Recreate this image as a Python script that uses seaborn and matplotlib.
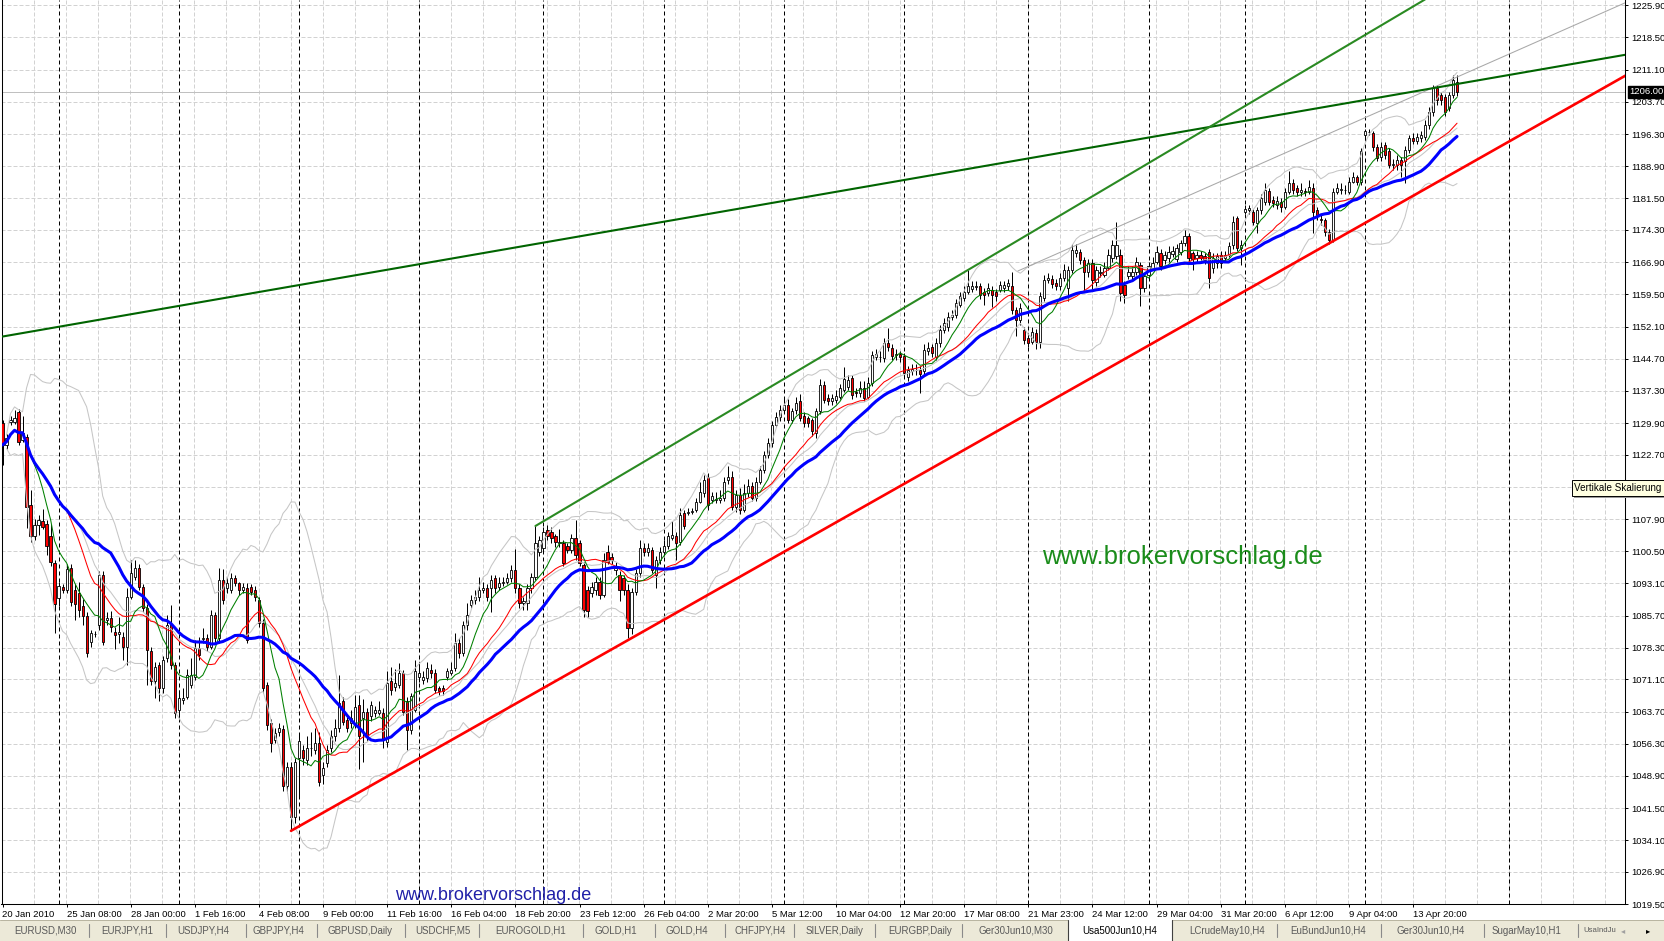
import numpy as np
import pandas as pd
import matplotlib
matplotlib.use("Agg")
import matplotlib.pyplot as plt
import seaborn as sns
from matplotlib.patches import Rectangle
from matplotlib.transforms import blended_transform_factory

# ---------------- data (Usa500Jun10, H4) ----------------
opens = [
1129.9,1124.9,1130.2,1130.2,1132.4,1126.0,1126.8,1111.1,1103.9,1106.5,
1107.4,1106.8,1103.9,1097.9,1089.7,1092.4,1091.6,1096.6,1091.6,1090.8,
1087.9,1085.6,1079.7,1081.5,1083.6,1095.0,1084.7,1085.1,1082.0,1081.6,
1080.7,1078.6,1090.0,1094.7,1096.6,1092.4,1087.4,1077.5,1070.6,1074.3,
1069.0,1075.9,1083.9,1074.4,1064.1,1066.4,1067.1,1069.8,1071.7,1078.2,
1080.3,1080.5,1078.6,1085.9,1080.5,1093.9,1092.0,1091.6,1094.3,1093.1,
1091.6,1092.0,1092.4,1091.6,1089.3,1084.0,1069.8,1061.0,1057.2,1059.0,
1059.6,1046.6,1051.0,1039.5,1053.0,1054.9,1052.6,1055.3,1054.9,1056.5,
1049.1,1051.8,1055.3,1058.0,1059.8,1066.0,1061.8,1061.0,1061.0,1065.2,
1062.2,1063.7,1062.6,1063.3,1063.3,1063.3,1056.8,1070.6,1069.4,1069.8,
1072.5,1066.0,1059.5,1064.1,1071.7,1071.0,1071.3,1073.3,1072.5,1069.1,
1069.1,1071.7,1072.5,1073.6,1079.4,1077.1,1083.6,1088.2,1089.3,1090.1,
1091.6,1092.0,1092.0,1094.3,1092.4,1093.2,1093.5,1094.3,1096.2,1092.0,
1088.6,1088.6,1092.0,1094.7,1100.4,1101.2,1105.4,1105.0,1103.9,1102.3,
1102.3,1101.6,1100.8,1103.5,1102.3,1097.4,1091.6,1090.9,1091.6,1093.5,
1090.5,1100.4,1099.1,1096.2,1095.1,1094.3,1091.6,1082.8,1091.2,1095.4,
1101.2,1100.4,1100.8,1095.1,1098.5,1100.4,1101.6,1103.5,1103.9,1102.7,
1109.2,1109.3,1109.6,1110.0,1111.9,1113.8,1117.6,1112.3,1112.2,1112.3,
1112.7,1116.9,1117.6,1110.7,1113.5,1110.0,1113.8,1115.5,1112.8,1116.5,
1119.2,1122.6,1125.3,1129.5,1131.4,1133.0,1134.1,1130.7,1133.0,1134.9,
1131.6,1131.0,1130.7,1127.6,1132.6,1138.7,1135.6,1134.9,1135.3,1136.0,
1137.6,1138.3,1140.2,1137.1,1136.8,1137.9,1136.0,1139.1,1145.2,1145.0,
1144.8,1148.4,1147.1,1145.6,1145.7,1145.4,1140.6,1141.8,1142.1,1142.1,
1141.8,1146.4,1147.3,1145.2,1148.3,1151.3,1151.9,1154.4,1154.8,1157.1,
1158.6,1160.1,1160.7,1161.2,1161.3,1160.1,1159.7,1160.6,1160.1,1160.5,
1160.9,1161.3,1161.3,1155.9,1153.6,1151.3,1149.4,1148.6,1150.5,1148.6,
1158.6,1162.8,1163.0,1162.0,1161.3,1163.2,1160.9,1165.1,1168.9,1169.3,
1167.4,1164.7,1166.6,1162.4,1164.3,1164.0,1165.5,1167.8,1168.2,1168.6,
1161.7,1163.6,1163.6,1164.7,1166.3,1160.9,1163.9,1165.5,1167.0,1169.0,
1167.4,1167.8,1168.7,1167.6,1169.3,1171.2,1172.8,1168.9,1167.8,1168.6,
1168.2,1169.3,1165.5,1166.6,1168.6,1167.8,1168.6,1170.9,1177.0,1170.1,
1178.5,1178.9,1178.5,1175.8,1178.9,1180.8,1183.2,1181.2,1180.0,1180.8,
1179.6,1183.1,1185.0,1183.9,1183.1,1183.2,1183.1,1183.9,1178.9,1176.7,
1176.6,1173.9,1172.0,1183.1,1183.5,1183.4,1183.1,1185.4,1186.5,1185.4,
1196.1,1196.7,1196.5,1193.4,1191.1,1193.8,1192.3,1189.2,1189.2,1190.3,
1190.0,1192.7,1195.3,1194.6,1195.3,1195.7,1198.4,1201.4,1206.8,1205.3,
1204.9,1202.2,1205.3,1208.3]

highs = [
1130.6,1127.5,1131.5,1132.9,1133.2,1131.5,1127.5,1114.5,1108.0,1108.8,
1110.1,1107.7,1106.8,1098.5,1093.5,1093.0,1097.5,1097.5,1093.0,1093.5,
1089.5,1086.5,1082.5,1082.3,1096.0,1096.0,1086.5,1086.8,1083.0,1085.5,
1082.0,1092.0,1098.5,1098.5,1097.5,1093.0,1088.5,1078.5,1075.0,1075.0,
1076.5,1085.9,1088.2,1075.0,1068.7,1069.0,1073.5,1076.0,1080.1,1080.9,
1082.8,1081.5,1087.0,1086.5,1096.6,1096.4,1094.6,1095.5,1095.0,1093.5,
1093.2,1093.2,1093.0,1092.5,1090.0,1085.0,1070.5,1062.0,1060.0,1061.0,
1060.5,1052.0,1052.0,1053.0,1058.5,1056.0,1058.0,1059.0,1060.0,1059.0,
1052.0,1056.0,1059.5,1062.0,1072.1,1067.0,1062.5,1064.0,1067.5,1067.5,
1066.5,1064.5,1066.0,1065.0,1066.0,1064.5,1073.0,1074.0,1073.5,1074.8,
1073.3,1067.0,1068.0,1075.5,1075.0,1073.0,1075.0,1074.5,1073.5,1069.5,
1069.8,1073.8,1075.0,1081.7,1080.5,1084.5,1088.6,1090.5,1091.5,1094.7,
1093.5,1093.0,1095.0,1095.0,1094.5,1094.5,1095.5,1097.4,1101.0,1093.0,
1090.0,1093.0,1095.5,1106.3,1104.0,1106.0,1106.5,1106.0,1104.5,1105.5,
1103.0,1102.5,1104.5,1107.7,1103.0,1098.0,1092.5,1093.5,1094.5,1094.5,
1100.0,1102.0,1100.0,1098.0,1096.0,1095.0,1093.0,1092.0,1096.5,1103.0,
1102.5,1102.5,1101.5,1099.5,1101.5,1103.0,1105.0,1107.5,1105.0,1110.5,
1110.0,1110.5,1110.5,1112.8,1116.5,1118.0,1118.5,1114.0,1114.0,1114.5,
1117.5,1120.0,1119.0,1114.5,1115.0,1116.0,1117.0,1116.5,1117.5,1120.0,
1123.5,1126.5,1130.5,1132.5,1134.1,1135.5,1135.5,1133.5,1136.0,1136.5,
1132.5,1131.5,1131.0,1133.5,1140.0,1139.5,1136.5,1136.5,1137.5,1139.0,
1142.9,1141.0,1141.0,1138.0,1139.5,1139.5,1140.5,1146.5,1147.0,1146.5,
1149.5,1151.7,1148.0,1147.0,1146.5,1146.0,1143.0,1143.5,1143.5,1143.0,
1148.0,1148.5,1148.0,1149.5,1152.5,1154.0,1155.5,1156.0,1158.5,1160.0,
1161.5,1165.1,1162.5,1162.5,1162.0,1161.0,1162.0,1161.5,1160.8,1162.5,
1162.5,1163.0,1164.7,1156.5,1157.5,1152.0,1150.0,1152.0,1151.5,1160.0,
1164.0,1164.5,1164.0,1163.0,1164.5,1166.5,1166.0,1171.0,1171.0,1170.0,
1168.0,1167.5,1167.5,1166.0,1166.0,1167.0,1170.0,1172.0,1176.2,1170.0,
1162.5,1166.0,1166.0,1168.0,1167.0,1164.5,1167.0,1168.0,1170.5,1170.0,
1169.5,1170.5,1170.5,1171.0,1172.0,1174.3,1173.5,1169.5,1169.5,1169.5,
1169.0,1170.0,1169.0,1169.0,1169.5,1169.5,1171.5,1177.5,1177.5,1172.0,
1180.0,1180.0,1179.0,1179.5,1182.5,1185.0,1184.0,1182.0,1182.0,1181.5,
1184.0,1187.9,1186.0,1184.5,1185.0,1184.0,1185.8,1185.0,1179.5,1178.0,
1177.0,1174.5,1184.0,1185.0,1185.0,1184.5,1186.5,1187.5,1187.0,1193.0,
1197.5,1197.5,1197.0,1194.0,1194.5,1194.5,1193.0,1190.5,1191.5,1191.0,
1193.5,1196.0,1196.5,1196.5,1197.0,1199.5,1202.5,1207.5,1207.5,1206.0,
1205.5,1206.0,1209.9,1209.9]

lows = [
1120.3,1124.0,1129.5,1129.8,1125.0,1125.5,1105.8,1102.7,1103.0,1104.2,
1105.5,1099.6,1097.0,1081.7,1088.0,1091.0,1091.0,1088.0,1084.7,1085.5,
1083.5,1076.2,1078.5,1080.7,1082.5,1079.0,1083.5,1082.0,1078.0,1079.5,
1075.5,1074.4,1089.5,1094.0,1091.5,1086.5,1069.8,1069.8,1066.7,1066.0,
1068.0,1075.0,1073.5,1062.1,1062.1,1065.5,1066.5,1069.0,1071.0,1075.5,
1079.5,1077.5,1078.0,1079.5,1079.5,1088.5,1091.0,1091.0,1092.5,1090.5,
1091.0,1079.5,1090.5,1089.0,1083.0,1068.0,1059.5,1054.5,1056.5,1058.0,
1045.5,1045.0,1036.3,1038.0,1044.0,1051.5,1051.5,1053.5,1054.0,1046.5,
1047.0,1051.0,1054.5,1057.0,1059.0,1060.5,1059.0,1060.0,1060.0,1050.5,
1052.0,1057.0,1061.5,1062.5,1062.8,1055.3,1055.5,1067.5,1068.5,1069.0,
1063.0,1054.9,1058.5,1063.5,1070.5,1070.0,1070.5,1071.5,1068.0,1067.5,
1067.5,1071.0,1072.0,1073.0,1076.0,1076.5,1082.5,1087.5,1088.5,1089.0,
1091.0,1089.0,1086.5,1091.0,1091.5,1092.5,1093.0,1093.5,1091.0,1087.5,
1087.0,1087.0,1091.0,1094.0,1099.5,1100.5,1103.0,1102.5,1101.5,1101.5,
1097.0,1100.0,1100.0,1098.5,1097.0,1085.5,1085.5,1090.0,1090.5,1089.5,
1090.0,1097.5,1097.5,1095.0,1089.0,1090.5,1080.5,1081.5,1090.5,1094.5,
1099.5,1099.5,1095.5,1092.0,1097.5,1099.5,1101.0,1103.0,1098.5,1102.0,
1105.5,1108.8,1109.0,1109.5,1111.5,1113.0,1110.0,1111.5,1111.5,1111.5,
1112.0,1116.0,1110.0,1109.5,1109.0,1109.5,1113.0,1112.0,1112.0,1116.0,
1118.5,1122.0,1124.5,1129.0,1130.5,1132.5,1130.0,1130.0,1132.0,1130.5,
1129.0,1129.0,1127.0,1126.5,1132.0,1134.5,1134.0,1134.0,1134.5,1135.5,
1137.0,1137.5,1135.5,1136.0,1136.0,1135.0,1135.5,1138.5,1144.5,1144.0,
1144.0,1146.5,1144.5,1144.5,1144.0,1140.5,1139.5,1141.0,1141.0,1136.8,
1141.0,1145.5,1145.0,1144.5,1147.5,1150.5,1151.0,1153.5,1154.0,1156.5,
1158.0,1159.5,1160.0,1160.5,1158.5,1157.0,1159.0,1156.5,1158.0,1160.0,
1160.0,1160.5,1155.0,1150.0,1152.5,1148.0,1147.5,1148.0,1147.0,1147.1,
1158.0,1162.0,1161.0,1160.5,1160.5,1162.5,1158.0,1164.5,1168.0,1166.5,
1160.0,1163.5,1160.5,1161.5,1163.5,1163.5,1165.0,1167.0,1167.5,1158.0,
1157.5,1163.0,1162.5,1164.0,1156.7,1160.0,1163.0,1165.0,1166.5,1165.0,
1166.5,1167.0,1168.0,1167.0,1168.5,1170.5,1167.0,1165.0,1167.0,1167.0,
1166.5,1161.0,1164.5,1165.5,1165.5,1167.0,1168.0,1170.0,1169.5,1166.3,
1178.0,1178.0,1175.5,1173.5,1178.0,1180.0,1180.0,1179.5,1179.0,1178.5,
1179.0,1182.5,1182.5,1182.0,1182.0,1182.0,1182.5,1173.5,1176.5,1175.5,
1173.0,1171.0,1171.6,1182.5,1182.5,1182.5,1182.5,1185.0,1184.5,1184.5,
1195.5,1196.0,1192.5,1190.0,1190.0,1190.5,1188.5,1188.0,1188.0,1186.5,
1185.0,1192.0,1194.0,1194.0,1194.5,1195.0,1197.5,1200.5,1203.0,1203.0,
1200.5,1201.5,1204.5,1205.0]

closes = [
1124.9,1126.4,1130.6,1131.2,1125.6,1127.6,1110.7,1103.9,1106.5,1107.7,
1106.1,1101.6,1098.1,1088.5,1092.5,1091.6,1096.4,1088.9,1088.5,1087.0,
1085.6,1077.2,1081.7,1081.4,1095.0,1079.7,1085.1,1083.2,1081.3,1082.0,
1078.6,1090.0,1095.4,1096.6,1092.4,1087.4,1077.9,1070.6,1074.0,1069.0,
1075.6,1083.6,1074.4,1063.3,1066.7,1066.9,1072.1,1072.1,1078.2,1076.7,
1080.5,1078.6,1085.9,1080.5,1093.9,1089.3,1093.1,1094.3,1093.1,1091.6,
1092.4,1080.1,1091.2,1090.1,1084.0,1069.0,1060.6,1056.5,1058.7,1059.8,
1046.6,1051.0,1039.5,1052.0,1057.0,1053.0,1055.3,1055.3,1056.5,1047.6,
1050.7,1054.9,1058.0,1059.8,1065.6,1061.4,1059.9,1062.2,1064.8,1058.0,
1063.6,1058.0,1065.2,1064.1,1064.1,1057.2,1070.2,1068.7,1070.2,1072.5,
1063.7,1059.5,1067.2,1072.9,1072.5,1071.7,1073.6,1072.5,1068.7,1068.3,
1068.3,1072.9,1073.3,1079.4,1077.1,1083.6,1085.9,1089.3,1090.1,1091.6,
1092.0,1090.1,1093.9,1092.0,1093.1,1093.5,1094.3,1096.2,1092.0,1088.6,
1089.0,1092.0,1094.7,1102.3,1103.1,1105.0,1103.9,1103.5,1102.7,1102.7,
1097.7,1100.8,1103.5,1099.7,1097.7,1087.0,1086.7,1092.4,1093.5,1090.5,
1098.5,1098.1,1098.5,1096.6,1091.6,1091.6,1082.8,1091.2,1095.4,1101.2,
1100.4,1101.2,1096.2,1098.5,1100.4,1101.6,1103.9,1104.3,1102.3,1108.8,
1106.2,1109.6,1109.7,1111.9,1114.2,1116.9,1111.1,1113.1,1112.5,1112.7,
1116.5,1117.6,1110.7,1113.5,1110.0,1113.8,1115.5,1112.8,1116.5,1119.2,
1122.6,1125.3,1129.5,1131.4,1133.0,1134.1,1130.7,1132.6,1134.5,1131.1,
1130.0,1129.9,1128.0,1132.6,1138.7,1135.3,1134.9,1135.6,1136.2,1137.9,
1140.0,1139.9,1136.4,1136.8,1137.9,1135.6,1139.1,1145.6,1145.8,1145.2,
1148.3,1147.3,1145.4,1145.7,1145.2,1141.4,1142.1,1142.4,1142.2,1141.2,
1146.7,1147.1,1146.0,1148.3,1151.3,1152.9,1154.4,1154.8,1157.4,1159.0,
1160.1,1161.3,1161.4,1161.3,1159.4,1159.4,1160.9,1159.4,1159.0,1161.6,
1161.6,1162.0,1155.9,1153.6,1156.3,1149.0,1148.3,1150.9,1148.6,1159.0,
1162.8,1163.2,1161.9,1161.3,1163.3,1165.1,1165.1,1169.7,1169.7,1167.4,
1164.7,1166.6,1162.8,1165.1,1164.7,1165.5,1168.6,1170.9,1170.9,1159.8,
1159.4,1164.7,1164.7,1167.0,1160.9,1163.6,1165.9,1166.6,1169.3,1165.9,
1168.6,1169.3,1169.5,1170.1,1171.2,1172.8,1167.8,1167.6,1168.6,1167.8,
1167.4,1163.2,1167.8,1168.2,1166.6,1168.6,1170.5,1176.2,1170.1,1170.9,
1179.1,1179.3,1176.2,1178.9,1181.5,1183.5,1180.8,1180.4,1180.9,1179.6,
1183.1,1185.0,1183.5,1182.9,1183.5,1182.9,1184.2,1178.5,1177.7,1176.5,
1173.9,1172.0,1183.1,1183.9,1183.6,1183.5,1185.4,1186.5,1185.4,1192.3,
1196.9,1196.8,1193.4,1190.7,1193.4,1191.5,1189.2,1189.3,1190.3,1189.2,
1192.7,1195.3,1194.6,1195.7,1196.1,1198.4,1201.4,1206.8,1204.1,1204.1,
1201.4,1205.3,1208.7,1206.0]

price_tick_labels = ["1019.50", "1026.90", "1034.10", "1041.50", "1048.90", "1056.30",
                     "1063.70", "1071.10", "1078.30", "1085.70", "1093.10", "1100.50",
                     "1107.90", "1115.30", "1122.70", "1129.90", "1137.30", "1144.70",
                     "1152.10", "1159.50", "1166.90", "1174.30", "1181.50", "1188.90",
                     "1196.30", "1203.70", "1211.10", "1218.50", "1225.90"]
hidden_price_label = "1115.30"   # covered by the "Vertikale Skalierung" tooltip
time_tick_labels = ["20 Jan 2010", "25 Jan 08:00", "28 Jan 00:00", "1 Feb 16:00",
                    "4 Feb 08:00", "9 Feb 00:00", "11 Feb 16:00", "16 Feb 04:00",
                    "18 Feb 20:00", "23 Feb 12:00", "26 Feb 04:00", "2 Mar 20:00",
                    "5 Mar 12:00", "10 Mar 04:00", "12 Mar 20:00", "17 Mar 08:00",
                    "21 Mar 23:00", "24 Mar 12:00", "29 Mar 04:00", "31 Mar 20:00",
                    "6 Apr 12:00", "9 Apr 04:00", "13 Apr 20:00"]
week_separators = [14, 44, 74, 104, 135, 165, 195, 225, 256, 286, 310, 340, 376]

# trend lines: (bar indices, prices)
trend_dark_green_bars, trend_dark_green_prices = [0, 405], [1149.8, 1214.5]
trend_green_bars, trend_green_prices = [133, 355], [1106.3, 1227.2]
trend_red_bars, trend_red_prices = [72, 405], [1036.3, 1209.7]
trend_gray_bars, trend_gray_prices = [253.4, 405], [1164.85, 1226.45]

tab_names = ["EURUSD,M30", "EURJPY,H1", "USDJPY,H4", "GBPJPY,H4", "GBPUSD,Daily",
             "USDCHF,M5", "EUROGOLD,H1", "GOLD,H1", "GOLD,H4", "CHFJPY,H4",
             "SILVER,Daily", "EURGBP,Daily", "Ger30Jun10,M30", "Usa500Jun10,H4",
             "LCrudeMay10,H4", "EuBundJun10,H4", "Ger30Jun10,H4", "SugarMay10,H1"]
active_tab = "Usa500Jun10,H4"
last_tab = "UsaIndJu"

n = len(closes)
assert len(opens) == n and len(highs) == n and len(lows) == n, (len(opens), len(highs), len(lows), n)

# ---------------- style ----------------
sns.set_theme(style="white")
plt.rcParams["font.family"] = ["Liberation Sans", "DejaVu Sans"]
plt.rcParams["axes.edgecolor"] = "black"
plt.rcParams["axes.linewidth"] = 0.75

W, H = 1664, 941
AX_L, AX_R, AX_T, AX_B = 1.5, 1625.0, 0.0, 904.0
PX_PER_BAR = 4.007
BAR0_PX = 2.5
PX_PER_PT = 4.355
Y_BOTTOM = 1019.5

fig = plt.figure(figsize=(W / 100, H / 100), dpi=100, facecolor="white")
ax = fig.add_axes([AX_L / W, 1 - AX_B / H, (AX_R - AX_L) / W, (AX_B - AX_T) / H])
ax.set_facecolor("white")

x0 = (AX_L - BAR0_PX) / PX_PER_BAR
x1 = (AX_R - BAR0_PX) / PX_PER_BAR
y0 = Y_BOTTOM
y1 = Y_BOTTOM + (AX_B - AX_T) / PX_PER_PT
ax.set_xlim(x0, x1)
ax.set_ylim(y0, y1)

# grid
ytick_vals = [float(s) for s in price_tick_labels]
ax.hlines(ytick_vals, x0, x1, colors="#d2d2d2", linestyles=(0, (4, 2)), lw=0.72, zorder=0.5)
ax.vlines(np.arange(7.9, x1, 8), y0, y1, colors="#d2d2d2", linestyles=(0, (4, 2)), lw=0.72, zorder=0.5)
ax.vlines(week_separators, y0, y1, colors="black", linestyles=(0, (4, 3)), lw=0.72, zorder=0.6)

# bid line
ax.axhline(closes[-1], color="#c0c0c0", lw=0.72, zorder=0.7)

# candles
o = np.array(opens); h = np.array(highs); l = np.array(lows); c = np.array(closes)
xb = np.arange(n)
ax.vlines(xb, l, h, colors="black", lw=0.72, zorder=2)
up = c >= o
lo = np.minimum(o, c)
ht = np.maximum(np.abs(c - o), 0.12)
ax.bar(xb[up], ht[up], bottom=lo[up], width=0.55, color="white", edgecolor="black", linewidth=0.6, zorder=3)
ax.bar(xb[~up], ht[~up], bottom=lo[~up], width=0.55, color="#ff0000", edgecolor="black", linewidth=0.6, zorder=3)

# indicators
s = pd.Series(c)
df = pd.DataFrame({
    "bar": xb,
    "ma_fast": s.rolling(8, min_periods=1).mean(),
    "ma_mid": s.rolling(17, min_periods=1).mean(),
    "ma_slow": s.rolling(28, min_periods=1).mean(),
})
bb_mid = s.rolling(20, min_periods=2).mean()
bb_sd = s.rolling(20, min_periods=2).std(ddof=0)
df["bb_mid"] = bb_mid
df["bb_up"] = bb_mid + 2 * bb_sd
df["bb_lo"] = bb_mid - 2 * bb_sd
dfb = df.dropna()

for col in ["bb_up", "bb_mid", "bb_lo"]:
    sns.lineplot(data=dfb, x="bar", y=col, ax=ax, color="#c6c6c6", linewidth=0.75,
                 estimator=None, sort=False, zorder=4)
sns.lineplot(data=df, x="bar", y="ma_mid", ax=ax, color="#ff0000", linewidth=0.75,
             estimator=None, sort=False, zorder=5)
sns.lineplot(data=df, x="bar", y="ma_fast", ax=ax, color="#008000", linewidth=0.75,
             estimator=None, sort=False, zorder=5)
sns.lineplot(data=df, x="bar", y="ma_slow", ax=ax, color="#0000ff", linewidth=2.2,
             estimator=None, sort=False, zorder=5)

# trend lines
ax.plot(trend_gray_bars, trend_gray_prices, color="#a8a8a8", lw=0.75, zorder=6)
ax.plot(trend_dark_green_bars, trend_dark_green_prices, color="#006400", lw=1.5, zorder=6)
ax.plot(trend_green_bars, trend_green_prices, color="#2a8a22", lw=1.5, zorder=6)
ax.plot(trend_red_bars, trend_red_prices, color="#ff0000", lw=1.9, zorder=6)

ax.set_xlabel("")
ax.set_ylabel("")

# axes / ticks
ax.spines["top"].set_visible(False)
for side in ["left", "right", "bottom"]:
    ax.spines[side].set_visible(True)
    ax.spines[side].set_color("black")
    ax.spines[side].set_linewidth(0.75)

ax.yaxis.tick_right()
ax.set_yticks(ytick_vals)
ax.set_yticklabels(["" if s_ == hidden_price_label else s_ for s_ in price_tick_labels])
ax.tick_params(axis="y", which="both", right=True, left=False, direction="out", length=2.2,
               width=0.7, pad=2.5, labelsize=6.8, colors="black")
xt = np.arange(0, 16 * len(time_tick_labels), 16)
ax.set_xticks(xt)
ax.set_xticklabels(time_tick_labels, ha="left")
ax.tick_params(axis="x", which="both", bottom=True, direction="out", length=2.5,
               width=0.7, pad=1.5, labelsize=6.8, colors="black")
for lab in ax.get_xticklabels():
    lab.set_horizontalalignment("left")

def axfrac(px, py):
    return ((px - AX_L) / (AX_R - AX_L), (AX_B - py) / (AX_B - AX_T))

# watermark texts
ax.text(*axfrac(1182, 557), "www.brokervorschlag.de", transform=ax.transAxes,
        ha="center", va="center", fontsize=18.5, color="#1a8c1a", zorder=7)
ax.text(*axfrac(493, 896), "www.brokervorschlag.de", transform=ax.transAxes,
        ha="center", va="center", fontsize=13, color="#2020a8", zorder=7, clip_on=True)

# current price label
bt = blended_transform_factory(ax.transAxes, ax.transData)
ax.text(1.0 + 4.5 / (AX_R - AX_L), closes[-1], f"{closes[-1]:.2f}", transform=bt,
        ha="left", va="center", fontsize=6.8, color="white", clip_on=False, zorder=10,
        bbox=dict(boxstyle="square,pad=0.18", facecolor="black", edgecolor="black"))

# tooltip "Vertikale Skalierung"
def fig_rect(px, py, pw, ph, **kw):
    return Rectangle((px / W, 1 - (py + ph) / H), pw / W, ph / H, transform=fig.transFigure, **kw)

fig.patches.append(fig_rect(1574, 482, 100, 16, facecolor="#9a9a9a", edgecolor="none", zorder=20))
fig.patches.append(fig_rect(1572, 480, 100, 15.5, facecolor="#ffffe1", edgecolor="black", lw=0.7, zorder=21))
fig.text(1574.5 / W, 1 - 488 / H, "Vertikale Skalierung", ha="left", va="center",
         fontsize=7.1, color="black", zorder=22)

# tab strip
tab = fig.add_axes([0, 0, 1, 21 / H])
tab.set_xlim(0, W)
tab.set_ylim(0, 21)
tab.axis("off")
tab.add_patch(Rectangle((0, 0), W, 21, facecolor="#ece9d8", edgecolor="none", zorder=0))
tab.plot([0, 1068], [20.6, 20.6], color="#b8b4a0", lw=0.7, zorder=1)
tab.plot([1172, W], [20.6, 20.6], color="#b8b4a0", lw=0.7, zorder=1)
tab.add_patch(Rectangle((1068, -1), 104, 23, facecolor="white", edgecolor="none", zorder=2))
tab.plot([1068, 1068], [0, 21], color="#404040", lw=0.8, zorder=3)
tab.plot([1172, 1172], [0, 21], color="#404040", lw=0.8, zorder=3)
tab_centers = [45, 127, 203, 278, 360, 443, 531, 616, 687, 760, 834, 920, 1016, 1120,
               1227, 1328, 1431, 1527]
for name, cx in zip(tab_names, tab_centers):
    tab.text(cx, 10.5, name, ha="center", va="center", fontsize=7,
             color="black" if name == active_tab else "#5a5a5a", zorder=4)
for sx in [89, 166, 246, 317, 405, 479, 583, 655, 725, 794, 875, 962, 1277, 1381, 1484, 1578]:
    tab.plot([sx, sx], [4, 17], color="#8a8a8a", lw=0.8, zorder=4)

tab.text(1583, 10.5, last_tab, ha="left", va="center", fontsize=5.6, color="#5a5a5a", zorder=4)
tab.text(1623, 10.5, "\u25c2", ha="center", va="center", fontsize=6, color="#a0a0a0",
         family="DejaVu Sans", zorder=4)
tab.text(1648, 10.5, "\u25b8", ha="center", va="center", fontsize=6, color="black",
         family="DejaVu Sans", zorder=4)

fig.savefig("out.png", dpi=100, facecolor="white")
